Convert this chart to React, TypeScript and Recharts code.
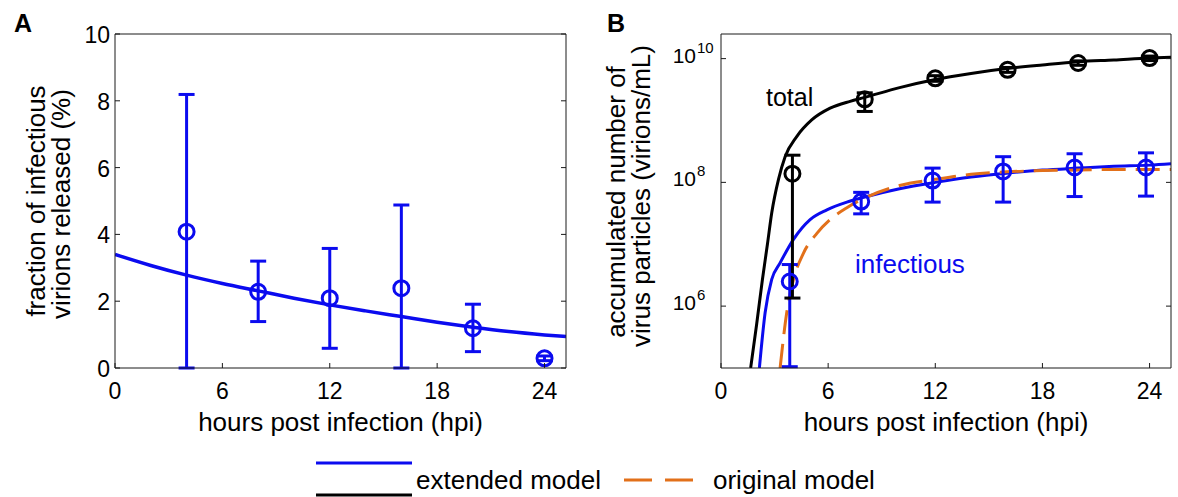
import React from "react";
import { ComposedChart, Line, Scatter, ErrorBar, XAxis, YAxis } from "recharts";

const BLUE = "#0b0bef";
const ORANGE = "#e2701a";
const INK = "#1a1a1a";
const FONT = '"Liberation Sans", Arial, Helvetica, sans-serif';

const hourTicks = [0, 6, 12, 18, 24];
const fractionTicks = [0, 2, 4, 6, 8, 10];
const particleTicks = [1e6, 1e8, 1e10];

// A: measured fraction of infectious virions (%), with error range
const fracHours = [4, 8, 12, 16, 20, 24];
const fracMean = [4.08, 2.28, 2.09, 2.39, 1.19, 0.29];
const fracLow = [0, 1.39, 0.59, 0, 0.49, 0.22];
const fracHigh = [8.19, 3.2, 3.58, 4.88, 1.91, 0.36];

// A: extended model fit
const fracFitHours = [0, 2, 4, 6, 8, 10, 12, 14, 16, 18, 20, 22, 24, 25.2];
const fracFit = [3.4, 3.07, 2.78, 2.53, 2.31, 2.09, 1.89, 1.71, 1.54, 1.37, 1.22, 1.09, 0.99, 0.94];

// B: total particles, measured
const totalHours = [4.0, 8.05, 12.0, 16.05, 20.0, 24.0];
const totalMean = [1.38e8, 2.2e9, 4.8e9, 6.6e9, 8.5e9, 1.02e10];
const totalLow = [1.35e6, 1.4e9, 4.3e9, 6.0e9, 7.8e9, 9.3e9];
const totalHigh = [2.75e8, 2.8e9, 5.3e9, 7.2e9, 9.2e9, 1.1e10];

// B: infectious particles, measured
const infHours = [3.85, 7.85, 11.85, 15.8, 19.8, 23.8];
const infMean = [2.5e6, 4.9e7, 1.07e8, 1.5e8, 1.74e8, 1.74e8];
const infLow = [1.05e5, 3.1e7, 4.8e7, 4.8e7, 5.9e7, 6e7];
const infHigh = [4.7e6, 6.9e7, 1.7e8, 2.6e8, 2.9e8, 3e8];

// B: extended model, total
const totalFitHours = [1.66, 2.0, 2.32, 2.6, 2.84, 3.22, 3.59, 4.24, 5.08, 6.11, 7.23, 8, 10, 12, 14, 16, 18, 20, 22, 24, 25.2];
const totalFit = [1e5, 5.2e5, 2.7e6, 1e7, 3.2e7, 1.12e8, 2.6e8, 5.5e8, 1.02e9, 1.58e9, 2.04e9, 2.34e9, 3.4e9, 4.6e9, 5.75e9, 6.9e9, 7.9e9, 8.9e9, 9.5e9, 1.02e10, 1.05e10];

// B: extended model, infectious
const infFitHours = [2.15, 2.47, 2.84, 3.31, 4.06, 4.99, 5.93, 7.05, 8, 10, 12, 14, 16, 18, 20, 22, 24, 25.2];
const infFit = [1e5, 7.8e5, 2.7e6, 5e6, 1.2e7, 2.5e7, 3.6e7, 4.8e7, 5.75e7, 7.9e7, 1e8, 1.22e8, 1.41e8, 1.58e8, 1.7e8, 1.82e8, 1.9e8, 2e8];

// B: original model, infectious
const origFitHours = [3.31, 3.68, 4.06, 4.62, 5.37, 6.11, 7.05, 8, 10, 12, 14, 16, 18, 20, 22, 24, 25.2];
const origFit = [1e5, 7.8e5, 2.7e6, 7.2e6, 1.5e7, 2.5e7, 3.9e7, 5.5e7, 8.9e7, 1.12e8, 1.35e8, 1.48e8, 1.55e8, 1.58e8, 1.62e8, 1.62e8, 1.62e8];

const pts = (xs: number[], ys: number[]) => xs.map((x, i) => ({ x, y: ys[i] }));
const withErr = (xs: number[], ys: number[], lo: number[], hi: number[]) =>
  xs.map((x, i) => ({ x, y: ys[i], err: [ys[i] - lo[i], hi[i] - ys[i]] }));

const BottomTick = (p: any) => (
  <g>
    <line x1={p.x} x2={p.x} y1={p.y} y2={p.y - 5} stroke={INK} />
    <text x={p.x} y={p.y + 31} textAnchor="middle" fontSize={23} fontFamily={FONT} fill="#000">
      {p.payload.value}
    </text>
  </g>
);
const TopTick = (p: any) => <line x1={p.x} x2={p.x} y1={p.y} y2={p.y + 5} stroke={INK} />;
const RightTick = (p: any) => <line x1={p.x} x2={p.x - 5} y1={p.y} y2={p.y} stroke={INK} />;
const LeftTick = (p: any) => (
  <g>
    <line x1={p.x} x2={p.x + 5} y1={p.y} y2={p.y} stroke={INK} />
    <text x={p.x - 5} y={p.y + 9} textAnchor="end" fontSize={23} fontFamily={FONT} fill="#000">
      {p.payload.value}
    </text>
  </g>
);
const PowTick = (p: any) => {
  const e = Math.round(Math.log10(p.payload.value));
  return (
    <g fontFamily={FONT} fill="#000">
      <line x1={p.x} x2={p.x + 5} y1={p.y} y2={p.y} stroke={INK} />
      <text x={p.x - 25} y={p.y + 4} textAnchor="end" fontSize={21}>10</text>
      <text x={p.x - 24} y={p.y - 6} fontSize={15}>{e}</text>
    </g>
  );
};

const ring = (color: string) => (p: any) =>
  <circle cx={p.cx} cy={p.cy} r={7.5} fill="none" stroke={color} strokeWidth={3} />;

const axisLine = { stroke: INK, strokeWidth: 1 };
const noTick = { tickLine: false, tickSize: 0, tickMargin: 0, interval: 0 as const, axisLine };

function PanelA() {
  return (
    <ComposedChart width={600} height={440} margin={{ top: 33, left: 114, right: 33, bottom: 71 }}>
      <XAxis dataKey="x" type="number" domain={[0, 25.2]} ticks={hourTicks} allowDataOverflow height={1} tick={BottomTick} {...noTick} />
      <XAxis xAxisId="top" orientation="top" type="number" domain={[0, 25.2]} ticks={hourTicks} allowDataOverflow height={1} tick={TopTick} {...noTick} />
      <YAxis dataKey="y" type="number" domain={[0, 10]} ticks={fractionTicks} allowDataOverflow width={1} tick={LeftTick} {...noTick} />
      <YAxis yAxisId="right" orientation="right" type="number" domain={[0, 10]} ticks={fractionTicks} allowDataOverflow width={1} tick={RightTick} {...noTick} />
      <Line data={pts(fracFitHours, fracFit)} dataKey="y" type="monotone" stroke={BLUE} strokeWidth={3.5} dot={false} isAnimationActive={false} />
      <Scatter data={withErr(fracHours, fracMean, fracLow, fracHigh)} dataKey="y" shape={ring(BLUE)} isAnimationActive={false}>
        <ErrorBar dataKey="err" direction="y" width={8} stroke={BLUE} strokeWidth={3} isAnimationActive={false} />
      </Scatter>
    </ComposedChart>
  );
}

function PanelB() {
  return (
    <ComposedChart width={588} height={440} margin={{ top: 33, left: 130, right: 6, bottom: 71 }}>
      <XAxis dataKey="x" type="number" domain={[0, 25.2]} ticks={hourTicks} allowDataOverflow height={1} tick={BottomTick} {...noTick} />
      <XAxis xAxisId="top" orientation="top" type="number" domain={[0, 25.2]} ticks={hourTicks} allowDataOverflow height={1} tick={TopTick} {...noTick} />
      <YAxis dataKey="y" type="number" scale="log" domain={[1e5, 2.5e10]} ticks={particleTicks} allowDataOverflow width={1} tick={PowTick} {...noTick} />
      <YAxis yAxisId="right" orientation="right" type="number" scale="log" domain={[1e5, 2.5e10]} ticks={particleTicks} allowDataOverflow width={1} tick={RightTick} {...noTick} />
      <Line data={pts(totalFitHours, totalFit)} dataKey="y" type="monotone" stroke="#000" strokeWidth={3} dot={false} isAnimationActive={false} />
      <Line data={pts(infFitHours, infFit)} dataKey="y" type="monotone" stroke={BLUE} strokeWidth={3} dot={false} isAnimationActive={false} />
      <Line data={pts(origFitHours, origFit)} dataKey="y" type="monotone" stroke={ORANGE} strokeWidth={3} strokeDasharray="24 10" dot={false} isAnimationActive={false} />
      <Scatter data={withErr(infHours, infMean, infLow, infHigh)} dataKey="y" shape={ring(BLUE)} isAnimationActive={false}>
        <ErrorBar dataKey="err" direction="y" width={8} stroke={BLUE} strokeWidth={3} isAnimationActive={false} />
      </Scatter>
      <Scatter data={withErr(totalHours, totalMean, totalLow, totalHigh)} dataKey="y" shape={ring("#000")} isAnimationActive={false}>
        <ErrorBar dataKey="err" direction="y" width={8} stroke="#000" strokeWidth={3} isAnimationActive={false} />
      </Scatter>
    </ComposedChart>
  );
}

export default function App() {
  return (
    <div style={{ position: "absolute", left: 0, top: 0, width: 1178, height: 497, background: "#fff", overflow: "hidden", fontFamily: FONT }}>
      <div style={{ position: "absolute", left: 0, top: 0 }}>
        <PanelA />
      </div>
      <div style={{ position: "absolute", left: 590, top: 0 }}>
        <PanelB />
      </div>
      <svg width={1178} height={497} style={{ position: "absolute", left: 0, top: 0, pointerEvents: "none" }} fontFamily={FONT} fill="#000">
        <text x={14} y={32} fontSize={25} fontWeight="bold">A</text>
        <text x={607} y={32} fontSize={25} fontWeight="bold">B</text>

        <text x={340.5} y={431} fontSize={26} textAnchor="middle">hours post infection (hpi)</text>
        <text x={946} y={431} fontSize={26} textAnchor="middle">hours post infection (hpi)</text>

        <text transform="translate(45,201) rotate(-90)" fontSize={26} textAnchor="middle">fraction of infectious</text>
        <text transform="translate(69.5,204) rotate(-90)" fontSize={26} textAnchor="middle">virions released (%)</text>
        <text transform="translate(625,202) rotate(-90)" fontSize={26} textAnchor="middle">accumulated number of</text>
        <text transform="translate(649.5,196) rotate(-90)" fontSize={26} textAnchor="middle">virus particles (virions/mL)</text>

        <text x={766} y={106} fontSize={25}>total</text>
        <text x={855} y={273} fontSize={26} fill={BLUE}>infectious</text>

        <line x1={316} x2={412} y1={463} y2={463} stroke={BLUE} strokeWidth={3} />
        <line x1={316} x2={412} y1={495} y2={495} stroke="#000" strokeWidth={3} />
        <text x={416} y={489} fontSize={26}>extended model</text>
        <line x1={624} x2={694} y1={480} y2={480} stroke={ORANGE} strokeWidth={3} strokeDasharray="28 13" />
        <text x={713} y={489} fontSize={26}>original model</text>
      </svg>
    </div>
  );
}
